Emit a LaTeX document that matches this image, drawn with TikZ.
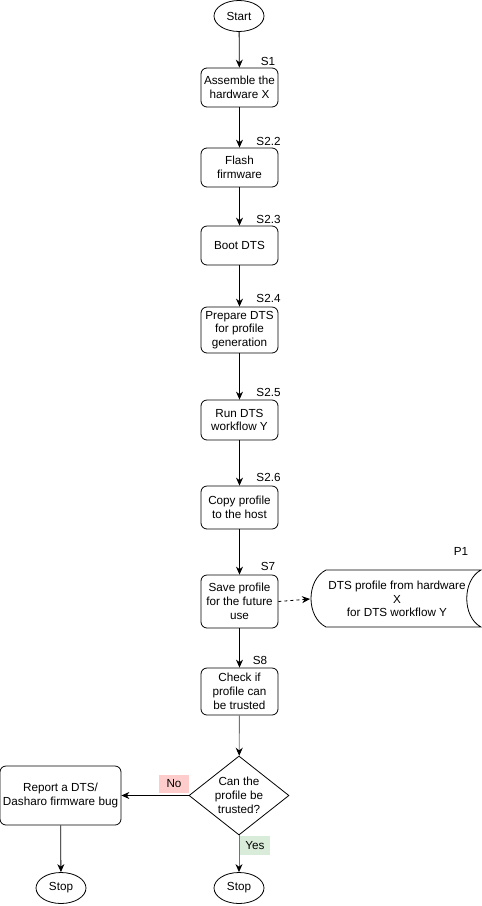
\documentclass[tikz,border=0pt]{standalone}
\usepackage{fontspec}
\setmainfont{Liberation Sans}
\usetikzlibrary{shapes.geometric,arrows.meta}
\begin{document}
\begin{tikzpicture}[x=1pt,y=-1pt,
  every node/.style={font=\fontsize{11.7}{13.7}\selectfont},
  stepbox/.style={draw,rounded corners=6pt,minimum width=77pt,inner sep=0pt,align=center,line width=0.8pt},
  term/.style={draw,ellipse,minimum width=50pt,minimum height=31pt,inner sep=0pt,line width=0.8pt},
  lbl/.style={inner sep=0pt},
  arr/.style={-{Stealth[length=8pt,width=7pt]},line width=0.8pt},
  garr/.style={-{Stealth[length=8pt,width=7pt,color=black]},line width=0.9pt,draw=black!55}
]
\useasboundingbox (0,0) rectangle (482,906);
\fill[white] (0,0) rectangle (482,906);

\node[term] (start) at (239,16) {Start};

\node[stepbox,minimum height=39pt] (s1) at (239.5,87.5) {Assemble the\\hardware X};
\node[stepbox,minimum height=39pt] (s22) at (239.5,167.5) {Flash\\firmware};
\node[stepbox,minimum height=39pt] (s23) at (239.5,245.5) {Boot DTS};
\node[stepbox,minimum height=46pt] (s24) at (239.5,330) {Prepare DTS\\for profile\\generation};
\node[stepbox,minimum height=40pt] (s25) at (239.5,420) {Run DTS\\workflow Y};
\node[stepbox,minimum height=43pt] (s26) at (239.5,507.5) {Copy profile\\to the host};
\node[stepbox,minimum height=53pt] (s7) at (239.5,601.5) {Save profile\\for the future\\use};
\node[stepbox,minimum height=47pt] (s8) at (239.5,691.5) {Check if\\profile can\\be trusted};

\node[lbl] (l1) at (268,61) {S1};
\node[lbl] (l22) at (268.5,141) {S2.2};
\node[lbl] (l23) at (268.5,219) {S2.3};
\node[lbl] (l24) at (268.5,298) {S2.4};
\node[lbl] (l25) at (268.5,392) {S2.5};
\node[lbl] (l26) at (268.5,477) {S2.6};
\node[lbl] (l7) at (268,566) {S7};
\node[lbl] (l8) at (260,660) {S8};
\node[lbl] (lp1) at (461,551) {P1};

% data storage shape
\draw[line width=0.8pt] (326,570) -- (481,570) .. controls (462,580) and (462,617) .. (481,627) -- (326,627) .. controls (306,617) and (306,580) .. (326,570) -- cycle;
\node[align=center,inner sep=0pt] (p1) at (397,599) {DTS profile from hardware\\X\\for DTS workflow Y};
\coordinate (p1w) at (310,599);

\node[draw,diamond,aspect=1.27,minimum width=100pt,minimum height=79pt,inner sep=0pt,line width=0.8pt,align=center] (dec) at (239,795.5) {Can the\\profile be\\trusted?};

\node[stepbox,minimum width=121pt,minimum height=59pt] (rep) at (60.5,795.5) {Report a DTS/\\Dasharo firmware bug};

\node[term] (stopl) at (61,888) {Stop};
\node[term] (stopr) at (239,888) {Stop};

\draw[arr] (start) -- (s1);
\draw[arr] (s1) -- (s22);
\draw[arr] (s22) -- (s23);
\draw[arr] (s23) -- (s24);
\draw[arr] (s24) -- (s25);
\draw[arr] (s25) -- (s26);
\draw[arr] (s26) -- (s7);
\draw[arr] (s7) -- (s8);
\draw[arr,dashed] (s7.east) -- (p1w);
\draw[garr] (s8) -- (dec);
\draw[arr] (dec.west) -- (rep.east);
\draw[arr] (rep) -- (stopl);
\draw[garr] (dec.south) -- (stopr);

\node[fill=red!20,minimum width=30pt,minimum height=18pt,inner sep=0pt] (no) at (174,784) {No};
\node[fill=green!50!black!15,minimum width=30pt,minimum height=19pt,inner sep=0pt] (yes) at (255,845.5) {Yes};
\end{tikzpicture}
\end{document}
